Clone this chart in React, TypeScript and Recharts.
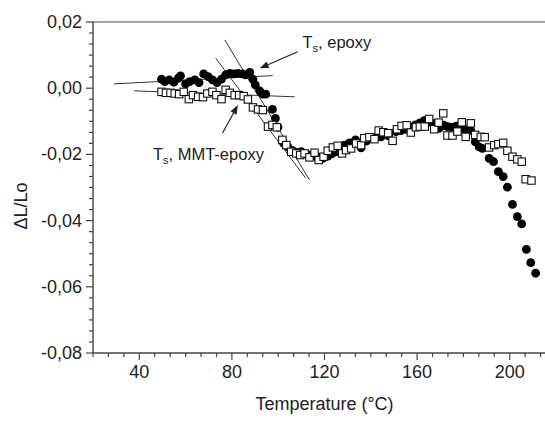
import React from "react";
import {
  ScatterChart,
  Scatter,
  XAxis,
  YAxis,
  ReferenceLine,
  ReferenceDot,
} from "recharts";

// epoxy (filled circles)
const epoxyTemp = [
  49.6, 51.0, 52.9, 54.9, 56.8, 57.8, 60.0, 61.8, 64.0, 65.8, 67.8, 69.7, 71.6, 73.6, 75.5, 77.3, 79.1, 80.8,
  82.6, 84.5, 85.9, 87.7, 89.1, 90.1, 92.0, 93.4, 94.6, 97.5, 98.8, 99.9, 102.3, 104.2, 106.0, 108.0, 110.0,
  112.5, 115.0, 117.0, 119.3, 121.5, 123.3, 125.0, 126.8, 128.6, 130.8, 133.4, 135.8, 138.0, 140.5, 142.5,
  144.4, 147.7, 150.9, 153.0, 155.2, 157.2, 159.2, 161.2, 163.1, 166.7, 169.6, 171.5, 173.1, 175.3, 177.0,
  178.9, 181.0, 183.2, 185.1, 186.8, 188.2, 191.1, 193.0, 195.1, 197.2, 199.0, 201.2, 203.3, 205.2, 207.2,
  209.1, 211.2,
];
const epoxyDL = [
  0.0027, 0.002, 0.0025, 0.0018, 0.003, 0.0037, 0.0013, 0.002, 0.0025, 0.0017, 0.0043, 0.0035, 0.0025, 0.0017,
  0.0027, 0.004, 0.0045, 0.0043, 0.0045, 0.0043, 0.004, 0.0048, 0.0027, 0.001, -0.0008, -0.0018, -0.0018,
  -0.0064, -0.0091, -0.0118, -0.0166, -0.0177, -0.0188, -0.0194, -0.0192, -0.02, -0.0205, -0.0208, -0.0212,
  -0.0205, -0.0198, -0.0192, -0.018, -0.0172, -0.0165, -0.0156, -0.018, -0.016, -0.015, -0.0148, -0.0147,
  -0.0144, -0.0131, -0.0128, -0.0124, -0.0118, -0.0111, -0.0105, -0.0098, -0.0106, -0.0121, -0.0112, -0.0116,
  -0.0118, -0.0115, -0.0121, -0.0125, -0.0128, -0.0162, -0.0177, -0.0182, -0.0212, -0.0222, -0.0252, -0.0267,
  -0.0299, -0.0351, -0.0388, -0.041, -0.0487, -0.0527, -0.0559,
];

// MMT-epoxy (open squares)
const mmtTemp = [
  49.6, 51.5, 53.5, 55.3, 57.2, 59.2, 61.4, 63.2, 65.4, 67.5, 69.4, 71.6, 73.3, 75.5, 77.3, 79.1, 81.2, 83.1,
  85.1, 86.9, 89.1, 91.3, 93.4, 95.6, 97.5, 99.4, 101.8, 103.5, 105.6, 107.8, 109.5, 111.4, 113.5, 115.7,
  117.5, 119.6, 121.4, 123.6, 125.7, 127.6, 129.3, 131.5, 133.7, 135.8, 137.2, 139.4, 141.6, 143.4, 145.4,
  147.5, 149.4, 151.3, 153.3, 155.5, 157.3, 159.5, 161.2, 163.3, 165.2, 167.4, 169.3, 171.3, 173.1, 175.3,
  177.4, 179.3, 181.0, 183.2, 185.1, 187.5, 189.2, 191.1, 193.3, 195.1, 197.2, 199.0, 201.2, 203.3, 205.2,
  206.9, 209.4,
];
const mmtDL = [
  -0.0011, -0.0014, -0.0014, -0.0016, -0.0018, -0.0011, -0.0033, -0.0021, -0.0026, -0.0027, -0.0016, -0.0011,
  -0.0021, -0.0033, -0.0005, -0.0014, -0.0021, -0.0021, -0.0024, -0.0034, -0.0058, -0.0064, -0.0066, -0.0116,
  -0.0111, -0.0118, -0.0156, -0.0172, -0.0192, -0.0197, -0.0202, -0.0197, -0.0209, -0.0195, -0.0217, -0.0207,
  -0.0189, -0.0179, -0.0174, -0.0197, -0.0187, -0.0182, -0.0167, -0.0172, -0.0151, -0.0148, -0.0154, -0.0128,
  -0.0133, -0.0136, -0.0159, -0.0124, -0.0114, -0.0112, -0.0134, -0.0118, -0.0116, -0.0116, -0.0093, -0.0124,
  -0.0104, -0.0076, -0.0143, -0.0143, -0.0131, -0.0103, -0.0147, -0.0106, -0.0141, -0.0147, -0.0148, -0.0179,
  -0.0172, -0.0169, -0.0165, -0.0189, -0.0207, -0.0215, -0.0222, -0.0275, -0.0279,
];

// tangent lines [x1, y1, x2, y2]
const tangentLines = [
  [29.0, 0.0013, 97.6, 0.0038],
  [37.8, -0.0008, 107.1, -0.0026],
  [76.9, 0.0146, 113.5, -0.0277],
  [73.0, 0.0091, 111.8, -0.0271],
];
// arrows [tailX, tailY, headX, headY]
const arrows = [
  [108.4, 0.011, 92.0, 0.006],
  [75.9, -0.0136, 82.6, -0.0051],
];
const annotations = [
  { x: 110.5, y: 0.0121, rest: ", epoxy" },
  { x: 45.9, y: -0.0217, rest: ", MMT-epoxy" },
];

const xDomain = [20, 220];
const yDomain = [-0.08, 0.02];
const xMajorTicks = [40, 80, 120, 160, 200];
const xTickLabels = ["40", "80", "120", "160", "200"];
const yMajorTicks = [-0.08, -0.06, -0.04, -0.02, 0, 0.02];
const yTickLabels = ["-0,08", "-0,06", "-0,04", "-0,02", "0,00", "0,02"];
const minorPerMajor = 6;

const xAllTicks = Array.from({ length: 31 }, (_, i) => Math.round((20 + (i * 40) / minorPerMajor) * 1e6) / 1e6);
const yAllTicks = Array.from({ length: 31 }, (_, i) => Math.round((-0.08 + (i * 0.02) / minorPerMajor) * 1e6) / 1e6);

const epoxyData = epoxyTemp.map((t, i) => ({ t, v: epoxyDL[i] }));
const mmtData = mmtTemp.map((t, i) => ({ t, v: mmtDL[i] }));

const FONT = "'Liberation Sans', Arial, sans-serif";
const AXIS = "#444";
const TEXT = "#222";

const XTick = (props: any) => {
  const { x, y, payload } = props;
  const idx = xMajorTicks.findIndex((m) => Math.abs(m - payload.value) < 1e-6);
  if (idx < 0) return <line x1={x} x2={x} y1={y} y2={y + 4} stroke={AXIS} strokeWidth={1.2} />;
  return (
    <g>
      <line x1={x} x2={x} y1={y} y2={y + 7} stroke={AXIS} strokeWidth={1.2} />
      <text x={x} y={y + 25} textAnchor="middle" fontSize={18} fontFamily={FONT} fill={TEXT}>
        {xTickLabels[idx]}
      </text>
    </g>
  );
};

const YTick = (props: any) => {
  const { x, y, payload } = props;
  const idx = yMajorTicks.findIndex((m) => Math.abs(m - payload.value) < 1e-7);
  if (idx < 0) return <line x1={x} x2={x - 4} y1={y} y2={y} stroke={AXIS} strokeWidth={1.2} />;
  return (
    <g>
      <line x1={x} x2={x - 7} y1={y} y2={y} stroke={AXIS} strokeWidth={1.2} />
      <text x={x - 11} y={y + 6} textAnchor="end" fontSize={18} fontFamily={FONT} fill={TEXT}>
        {yTickLabels[idx]}
      </text>
    </g>
  );
};

const FilledDot = (p: any) => <circle cx={p.cx} cy={p.cy} r={4.4} fill="#000" />;
const OpenSquare = (p: any) => (
  <rect x={p.cx - 3.7} y={p.cy - 3.7} width={7.4} height={7.4} fill="#fff" stroke="#111" strokeWidth={1.1} />
);

const Arrow = (p: any) => {
  const { x1, y1, x2, y2 } = p;
  const ang = Math.atan2(y2 - y1, x2 - x1);
  const len = 9;
  const w = 3.5;
  const bx = x2 - len * Math.cos(ang);
  const by = y2 - len * Math.sin(ang);
  const px = -Math.sin(ang) * w;
  const py = Math.cos(ang) * w;
  return (
    <g>
      <line x1={x1} y1={y1} x2={bx} y2={by} stroke="#222" strokeWidth={1.2} />
      <polygon points={`${x2},${y2} ${bx + px},${by + py} ${bx - px},${by - py}`} fill="#222" />
    </g>
  );
};

const App = () => {
  return (
    <div
      style={{
        position: "absolute",
        left: 0,
        top: 0,
        width: 545,
        height: 424,
        overflow: "hidden",
        background: "#fff",
      }}
    >
      <ScatterChart width={560} height={424} margin={{ top: 22, right: 4, bottom: 0, left: 0 }}>
        <XAxis
          type="number"
          dataKey="t"
          domain={xDomain}
          ticks={xAllTicks}
          interval={0}
          tickSize={0}
          tickMargin={0}
          tickLine={false}
          tick={<XTick />}
          height={71}
          axisLine={{ stroke: AXIS, strokeWidth: 1.4 }}
          label={(p: any) => {
            const vb = p.viewBox;
            return (
              <text
                x={vb.x + vb.width / 2}
                y={vb.y + 57}
                textAnchor="middle"
                fontSize={18}
                fontFamily={FONT}
                fill={TEXT}
              >
                Temperature (°C)
              </text>
            );
          }}
        />
        <YAxis
          type="number"
          dataKey="v"
          domain={yDomain}
          ticks={yAllTicks}
          interval={0}
          tickSize={0}
          tickMargin={0}
          tickLine={false}
          tick={<YTick />}
          width={93}
          axisLine={{ stroke: AXIS, strokeWidth: 1.4 }}
          label={() => (
            <text
              x={27}
              y={206}
              transform="rotate(-90 27 206)"
              textAnchor="middle"
              fontSize={18}
              fontFamily={FONT}
              fill={TEXT}
            >
              ΔL/Lo
            </text>
          )}
        />
        <ReferenceLine y={0.02} stroke="#888" strokeWidth={1.4} />
        <Scatter data={epoxyData} shape={<FilledDot />} isAnimationActive={false} />
        <Scatter data={mmtData} shape={<OpenSquare />} isAnimationActive={false} />
        {tangentLines.map((l, i) => (
          <ReferenceLine
            key={"t" + i}
            segment={[
              { x: l[0], y: l[1] },
              { x: l[2], y: l[3] },
            ]}
            stroke="#333"
            strokeWidth={1}
            ifOverflow="visible"
          />
        ))}
        {arrows.map((a, i) => (
          <ReferenceLine
            key={"a" + i}
            segment={[
              { x: a[0], y: a[1] },
              { x: a[2], y: a[3] },
            ]}
            shape={(p: any) => <Arrow {...p} />}
            ifOverflow="visible"
          />
        ))}
        {annotations.map((a, i) => (
          <ReferenceDot
            key={"n" + i}
            x={a.x}
            y={a.y}
            r={0}
            ifOverflow="visible"
            shape={(p: any) => (
              <text x={p.cx} y={p.cy} fontSize={16.5} fontFamily={FONT} fill={TEXT}>
                T
                <tspan fontSize={11} dy={4}>
                  s
                </tspan>
                <tspan dy={-4}>{a.rest}</tspan>
              </text>
            )}
          />
        ))}
      </ScatterChart>
    </div>
  );
};

export default App;
